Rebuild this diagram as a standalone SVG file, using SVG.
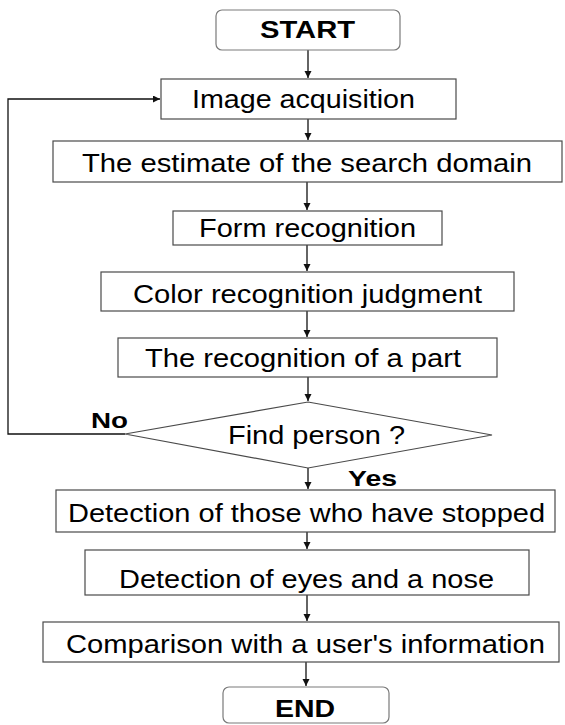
<svg xmlns="http://www.w3.org/2000/svg" width="565" height="725" viewBox="0 0 565 725">
  <style>
    .box { fill: #ffffff; stroke: #4a4a4a; stroke-width: 1.2; }
    .term { fill: #ffffff; stroke: #7a7a7a; stroke-width: 1.2; }
    .lbl { font-family: "Liberation Sans", Arial, sans-serif; font-size: 25px; fill: #000; }
    .bold { font-family: "Liberation Sans", Arial, sans-serif; font-weight: bold; fill: #000; }
    .conn { fill: none; stroke: #111; stroke-width: 1.3; }
  </style>
  <defs>
    <marker id="arrow" markerUnits="userSpaceOnUse" markerWidth="8" markerHeight="8" refX="7" refY="3.5" orient="auto">
      <path d="M0,0 L7,3.5 L0,7 z" fill="#111"/>
    </marker>
  </defs>

  <rect width="565" height="725" fill="#ffffff"/>

  <!-- connectors -->
  <g id="connectors">
    <path class="conn" d="M308,50 V78" marker-end="url(#arrow)"/>
    <path class="conn" d="M308,119 V140" marker-end="url(#arrow)"/>
    <path class="conn" d="M307,182 V210" marker-end="url(#arrow)"/>
    <path class="conn" d="M307,245 V271" marker-end="url(#arrow)"/>
    <path class="conn" d="M307,311 V337" marker-end="url(#arrow)"/>
    <path class="conn" d="M308,377 V401" marker-end="url(#arrow)"/>
    <path class="conn" d="M308,468 V489" marker-end="url(#arrow)"/>
    <path class="conn" d="M307,532 V549" marker-end="url(#arrow)"/>
    <path class="conn" d="M307,595 V621" marker-end="url(#arrow)"/>
    <path class="conn" d="M306,662 V686" marker-end="url(#arrow)"/>
    <path class="conn" d="M125,434 H8 V99 H160" marker-end="url(#arrow)"/>
  </g>

  <!-- edge labels -->
  <g id="edge-labels">
    <text class="bold" x="91" y="428" font-size="22" textLength="37" lengthAdjust="spacingAndGlyphs">No</text>
    <text class="bold" x="348" y="486" font-size="22" textLength="49" lengthAdjust="spacingAndGlyphs">Yes</text>
  </g>

  <g id="start">
    <rect class="term" x="216" y="10" width="184" height="40" rx="6"/>
    <text class="bold" x="260" y="38" font-size="24" textLength="95" lengthAdjust="spacingAndGlyphs">START</text>
  </g>

  <g id="image-acquisition">
    <rect class="box" x="161" y="79" width="295" height="40"/>
    <text class="lbl" x="192" y="108" textLength="223" lengthAdjust="spacingAndGlyphs">Image acquisition</text>
  </g>

  <g id="search-domain">
    <rect class="box" x="53" y="141" width="509" height="41"/>
    <text class="lbl" x="82" y="172" textLength="450" lengthAdjust="spacingAndGlyphs">The estimate of the search domain</text>
  </g>

  <g id="form-recognition">
    <rect class="box" x="173" y="211" width="269" height="34"/>
    <text class="lbl" x="199" y="237" textLength="217" lengthAdjust="spacingAndGlyphs">Form recognition</text>
  </g>

  <g id="color-recognition">
    <rect class="box" x="101" y="272" width="413" height="39"/>
    <text class="lbl" x="133" y="303" textLength="349" lengthAdjust="spacingAndGlyphs">Color recognition judgment</text>
  </g>

  <g id="part-recognition">
    <rect class="box" x="118" y="338" width="379" height="39"/>
    <text class="lbl" x="145" y="367" textLength="316" lengthAdjust="spacingAndGlyphs">The recognition of a part</text>
  </g>

  <g id="find-person">
    <polygon class="box" points="308,402 492,435 308,468 125,434"/>
    <text class="lbl" x="228" y="444" textLength="177" lengthAdjust="spacingAndGlyphs">Find person ?</text>
  </g>

  <g id="stopped-detection">
    <rect class="box" x="56" y="490" width="499" height="42"/>
    <text class="lbl" x="68" y="522" textLength="477" lengthAdjust="spacingAndGlyphs">Detection of those who have stopped</text>
  </g>

  <g id="eyes-nose">
    <rect class="box" x="85" y="550" width="444" height="45"/>
    <text class="lbl" x="119" y="588" textLength="375" lengthAdjust="spacingAndGlyphs">Detection of eyes and a nose</text>
  </g>

  <g id="user-comparison">
    <rect class="box" x="43" y="622" width="516" height="40"/>
    <text class="lbl" x="66" y="653" textLength="479" lengthAdjust="spacingAndGlyphs">Comparison with a user's information</text>
  </g>

  <g id="end">
    <rect class="term" x="223" y="687" width="166" height="36" rx="6"/>
    <text class="bold" x="275" y="717" font-size="24" textLength="60" lengthAdjust="spacingAndGlyphs">END</text>
  </g>
</svg>
